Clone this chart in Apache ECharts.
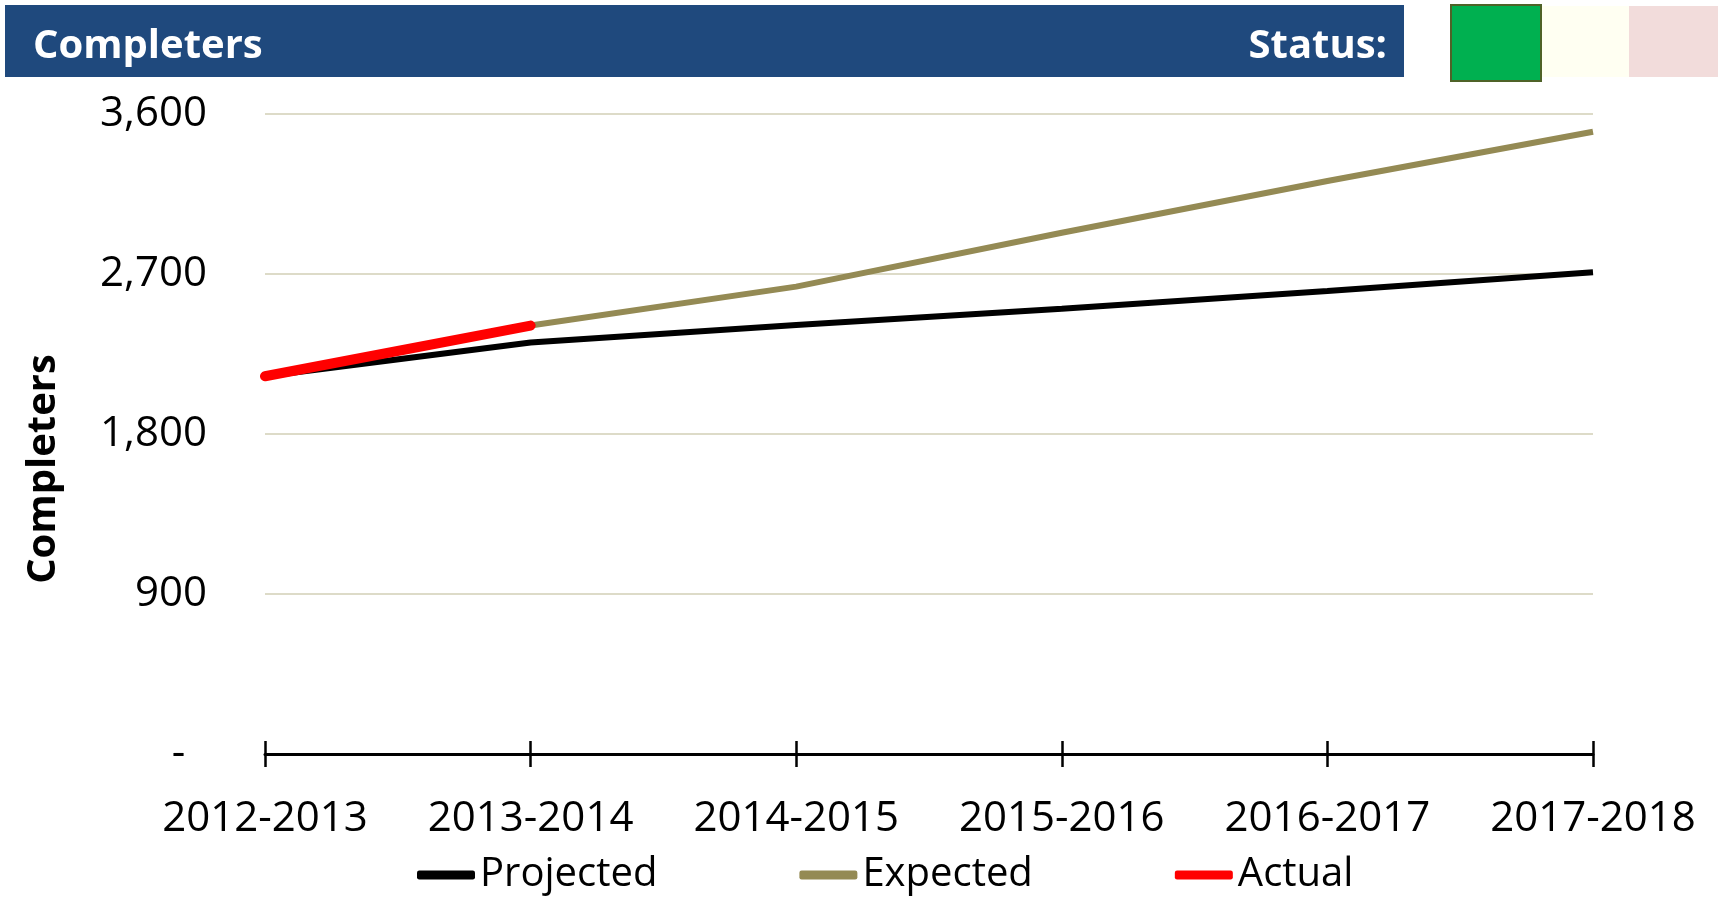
<!DOCTYPE html>
<html>
<head>
<meta charset="utf-8">
<script src="https://cdn.jsdelivr.net/npm/echarts@6/dist/echarts.min.js"></script>
<style>
  html, body { margin: 0; padding: 0; background: #fff; }
  #chart { width: 1723px; height: 897px; }
</style>
</head>
<body>
<div id="chart"></div>
<script>
// 데이터
const years = ["2012-2013", "2013-2014", "2014-2015", "2015-2016", "2016-2017", "2017-2018"];
const projected = [2125, 2315, 2413, 2505, 2604, 2710];
const expected = [2125, 2410, 2629, 2932, 3223, 3500];
const actual = [2125, 2410, null, null, null, null];

const FONT = "Open Sans";

const chart = echarts.init(document.getElementById("chart"));

const option = {
  animation: false,
  backgroundColor: "#fff",
  textStyle: { fontFamily: FONT },
  grid: { left: 265, right: 130, top: 114, bottom: 143, containLabel: false },
  graphic: [
    // 헤더 바
    { type: "rect", shape: { x: 5, y: 5, width: 1399, height: 72 }, style: { fill: "#1F497D" } },
    { type: "text", left: 33, top: 27, style: { text: "Completers", fill: "#fff", font: `bold 40px "${FONT}"` } },
    { type: "text", right: 1723 - 1387, top: 27, style: { text: "Status:", fill: "#fff", font: `bold 40px "${FONT}"` } },
    // 상태 박스
    { type: "rect", shape: { x: 1451, y: 5, width: 90, height: 76 }, style: { fill: "#00B050", stroke: "#4F6228", lineWidth: 2 } },
    { type: "rect", shape: { x: 1542, y: 6, width: 87, height: 71 }, style: { fill: "#FFFFF2" } },
    { type: "rect", shape: { x: 1629, y: 6, width: 89, height: 71 }, style: { fill: "#F2DCDB" } },
    // 세로 축 이름
    {
      type: "text", x: 44, y: 469, rotation: Math.PI / 2,
      style: { text: "Completers", fill: "#000", font: `bold 40px "${FONT}"`, align: "center", verticalAlign: "middle" }
    }
  ],
  legend: {
    left: 412,
    top: 850,
    itemWidth: 58,
    itemHeight: 9,
    itemGap: 142,
    icon: "roundRect",
    textStyle: { fontSize: 40, color: "#000", fontFamily: FONT },
    data: ["Projected", "Expected", "Actual"]
  },
  xAxis: [
    {
      type: "category",
      data: years,
      boundaryGap: false,
      axisLine: { lineStyle: { color: "#000", width: 3 } },
      axisTick: { show: true, interval: 0, length: 13, lineStyle: { color: "#000", width: 2.5 } },
      axisLabel: { interval: 0, fontSize: 42, color: "#000", margin: 44, fontFamily: FONT },
      splitLine: { show: false }
    },
    {
      type: "category",
      data: years,
      boundaryGap: false,
      position: "bottom",
      axisLine: { show: false },
      axisTick: { show: true, interval: 0, inside: true, length: 13, lineStyle: { color: "#000", width: 2.5 } },
      axisLabel: { show: false },
      splitLine: { show: false }
    }
  ],
  yAxis: {
    type: "value",
    min: 0,
    max: 3600,
    interval: 900,
    axisLine: { show: false },
    axisTick: { show: false },
    axisLabel: {
      fontSize: 42,
      color: "#000",
      margin: 58,
      fontFamily: FONT,
      formatter: (v) => (v === 0 ? "-  " : v.toLocaleString("en-US"))
    },
    splitLine: { lineStyle: { color: "#DDDBC8", width: 2 } }
  },
  series: [
    {
      name: "Projected",
      type: "line",
      data: projected,
      symbol: "none",
      color: "#000",
      lineStyle: { color: "#000", width: 6 }
    },
    {
      name: "Expected",
      type: "line",
      data: expected,
      symbol: "none",
      color: "#948A54",
      lineStyle: { color: "#948A54", width: 6 }
    },
    {
      name: "Actual",
      type: "line",
      data: actual,
      symbol: "none",
      color: "#FF0000",
      lineStyle: { color: "#FF0000", width: 10, cap: "round" }
    }
  ]
};

chart.setOption(option);
</script>
</body>
</html>
